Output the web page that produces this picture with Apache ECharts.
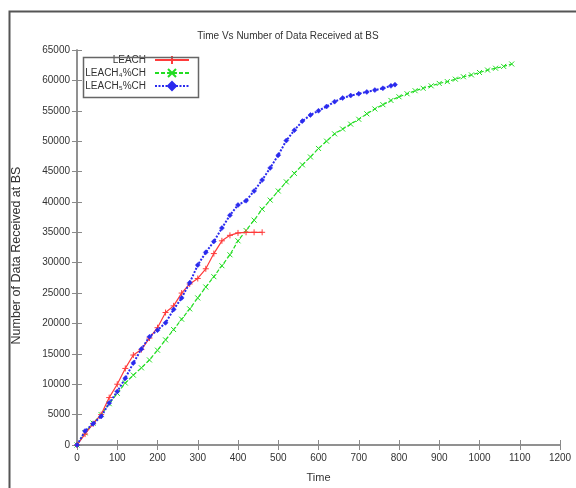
<!DOCTYPE html>
<html>
<head>
    <meta charset="utf-8">
    <title>Time Vs Number of Data Received at BS</title>
    <script src="https://cdn.jsdelivr.net/npm/echarts@6/dist/echarts.min.js"></script>
    <style>
        body, html {
            margin: 0;
            background: #fff;
        }

        #main {
            width: 576px;
            height: 488px;
        }
    </style>
</head>
<body>
<div id="main"></div>
<script type="text/javascript">
    // values (time, packets received)
    var leachTime = [0, 20, 40, 60, 80, 100, 120, 140, 160, 180, 200, 220, 240, 260, 280, 300, 320, 340, 360, 380, 400, 420, 440, 460];
    var leachData = [0, 1800, 3500, 5000, 7800, 10000, 12600, 14800, 15700, 17600, 19300, 21800, 22900, 25000, 26500, 27400, 29000, 31500, 33600, 34500, 34900, 35000, 35000, 35000];

    var leach4Time = [0, 20, 40, 60, 80, 100, 120, 140, 160, 180, 200, 220, 240, 260, 280, 300, 320, 340, 360, 380,
        400, 420, 440, 460, 480, 500, 520, 540, 560, 580, 600, 620, 640, 660, 680, 700, 720, 740, 760, 780,
        800, 820, 840, 860, 880, 900, 920, 940, 960, 980, 1000, 1020, 1040, 1060, 1080];
    var leach4Data = [0, 2000, 3600, 5000, 6800, 8500, 10200, 11500, 12700, 14000, 15600, 17300, 19000, 20700, 22400, 24200, 26000, 27700, 29500, 31300,
        33600, 35300, 37000, 38800, 40300, 41800, 43300, 44700, 46100, 47400, 48800, 50000, 51200, 52000, 52800, 53600, 54500, 55300, 56000, 56700,
        57300, 57800, 58300, 58700, 59100, 59500, 59800, 60200, 60600, 60900, 61300, 61700, 62000, 62300, 62700];

    var leach5Time = [0, 20, 40, 60, 80, 100, 120, 140, 160, 180, 200, 220, 240, 260, 280, 300, 320, 340, 360, 380,
        400, 420, 440, 460, 480, 500, 520, 540, 560, 580, 600, 620, 640, 660, 680, 700, 720, 740, 760, 780, 790];
    var leach5Data = [0, 2300, 3500, 4700, 6900, 8800, 11000, 13500, 15800, 17800, 18900, 20100, 22300, 24200, 26700, 29600, 31700, 33500, 35700, 37800,
        39500, 40200, 41800, 43600, 45600, 47700, 50100, 51800, 53300, 54300, 55000, 55700, 56500, 57100, 57500, 57800, 58100, 58400, 58700, 59100, 59300];

    var seriesNames = ['LEACH', 'LEACH\u2084%CH', 'LEACH\u2085%CH'];

    function pairs(xs, ys) {
        var out = [];
        for (var i = 0; i < xs.length; i++) {
            out.push([xs[i], ys[i]]);
        }
        return out;
    }

    var myChart = echarts.init(document.getElementById('main'));

    var font = '"Liberation Sans", Arial, sans-serif';
    var axisGray = '#8a8a8a';
    var textColor = '#333';

    function plain(v) {
        return String(v);
    }

    function legendFor(name, top) {
        return {
            data: [name],
            orient: 'vertical',
            align: 'right',
            right: 386,
            top: top,
            itemWidth: 34,
            itemHeight: 10,
            padding: 0,
            textStyle: {
                fontFamily: font,
                fontSize: 10,
                color: textColor,
                padding: [0, 4, 0, 0]
            }
        };
    }

    option = {
        backgroundColor: '#fff',
        animation: false,
        textStyle: {
            fontFamily: font
        },
        title: {
            text: 'Time Vs Number of Data Received at BS',
            left: 'center',
            top: 26,
            textStyle: {
                fontFamily: font,
                fontSize: 10,
                fontWeight: 'normal',
                color: textColor
            }
        },
        grid: {
            left: 77,
            right: 16,
            top: 50,
            bottom: 42
        },
        legend: [
            legendFor(seriesNames[0], 55),
            legendFor(seriesNames[1], 68),
            legendFor(seriesNames[2], 81)
        ],
        graphic: [
            {
                type: 'rect',
                left: 7,
                top: 9,
                shape: {width: 620, height: 520},
                style: {fill: 'none', stroke: '#555', lineWidth: 2},
                z: 100
            },
            {
                type: 'rect',
                left: 81,
                top: 55,
                shape: {width: 115, height: 40},
                style: {fill: 'none', stroke: '#666', lineWidth: 1.5},
                z: 100
            }
        ],
        xAxis: [
            {
                type: 'value',
                min: 0,
                max: 1200,
                interval: 100,
                name: 'Time',
                nameLocation: 'middle',
                nameGap: 27,
                nameTextStyle: {fontFamily: font, fontSize: 11, color: textColor},
                axisLine: {lineStyle: {color: axisGray, width: 1.5}},
                axisTick: {inside: true, length: 5, lineStyle: {color: axisGray}},
                axisLabel: {fontFamily: font, fontSize: 10, color: textColor, margin: 8, formatter: plain},
                splitLine: {show: false}
            },
            {
                type: 'value',
                position: 'top',
                min: 0,
                max: 1200,
                interval: 100,
                axisLine: {show: true, lineStyle: {color: axisGray, width: 1.5}},
                axisTick: {show: true, inside: true, length: 5, lineStyle: {color: axisGray}},
                axisLabel: {show: false},
                splitLine: {show: false}
            }
        ],
        yAxis: [
            {
                type: 'value',
                min: 0,
                max: 65000,
                interval: 5000,
                name: 'Number of Data Received at BS',
                nameLocation: 'middle',
                nameGap: 54,
                nameTextStyle: {fontFamily: font, fontSize: 12.5, color: textColor, padding: [0, 16, 0, 0]},
                axisLine: {show: true, lineStyle: {color: axisGray, width: 1.5}},
                axisTick: {show: true, inside: true, length: 5, lineStyle: {color: axisGray}},
                axisLabel: {fontFamily: font, fontSize: 10, color: textColor, margin: 7, formatter: plain},
                splitLine: {show: false}
            },
            {
                type: 'value',
                position: 'right',
                min: 0,
                max: 65000,
                interval: 5000,
                axisLine: {show: true, lineStyle: {color: axisGray, width: 1.5}},
                axisTick: {show: true, inside: true, length: 5, lineStyle: {color: axisGray}},
                axisLabel: {show: false},
                splitLine: {show: false}
            }
        ],
        series: [
            {
                name: seriesNames[0],
                type: 'line',
                data: pairs(leachTime, leachData),
                symbol: 'path://M0,5L10,5M5,0L5,10',
                symbolSize: 6,
                itemStyle: {color: '#ff3b3b', borderColor: '#ff3b3b', borderWidth: 1},
                lineStyle: {color: '#ff3b3b', width: 1.2},
                z: 3
            },
            {
                name: seriesNames[1],
                type: 'line',
                data: pairs(leach4Time, leach4Data),
                symbol: 'path://M0,0L10,10M10,0L0,10',
                symbolSize: 5,
                itemStyle: {color: '#22dd22', borderColor: '#22dd22', borderWidth: 1},
                lineStyle: {color: '#22dd22', width: 1.2, type: [4, 2]},
                z: 2
            },
            {
                name: seriesNames[2],
                type: 'line',
                data: pairs(leach5Time, leach5Data),
                symbol: 'diamond',
                symbolSize: 5,
                itemStyle: {color: '#2a2aee', borderColor: '#2a2aee', borderWidth: 0.5},
                lineStyle: {color: '#2a2aee', width: 2, type: [2, 1.5]},
                z: 4
            }
        ]
    };

    myChart.setOption(option);
</script>
</body>
</html>
